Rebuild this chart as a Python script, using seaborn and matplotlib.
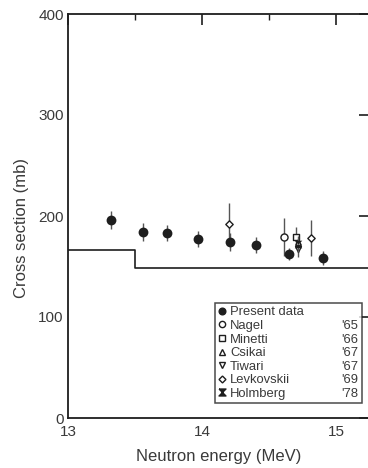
import matplotlib
matplotlib.use("Agg")
import matplotlib.pyplot as plt
from matplotlib.lines import Line2D
import seaborn as sns
import pandas as pd

# ---- data ----
present_E = [13.32, 13.56, 13.74, 13.97, 14.21, 14.40, 14.65, 14.90]
present_S = [196, 184, 183, 177, 174, 171, 162, 158]
present_err = [9, 9, 8, 8, 9, 8, 6, 7]

nagel_E, nagel_S, nagel_err = [14.61], [179], [19]
minetti_E, minetti_S, minetti_err = [14.70], [179], [10]
csikai_E, csikai_S, csikai_err = [14.71], [174], [7]
tiwari_E, tiwari_S, tiwari_err = [14.71], [167], [8]
levk_E, levk_S, levk_err = [14.20, 14.81], [192, 178], [21, 18]
holm_E, holm_S, holm_err = [14.71], [172], [8]

step_E = [13.0, 13.5, 15.3]
step_S = [166, 149, 149]

legend_names = ["Present data", "Nagel", "Minetti", "Csikai", "Tiwari", "Levkovskii", "Holmberg"]
legend_years = ["", "'65", "'66", "'67", "'67", "'69", "'78"]

x_ticks = [13, 14, 15]
y_ticks = [0, 100, 200, 300, 400]

# ---- style ----
sns.set_theme(style="white")
plt.rcParams["font.family"] = ["Liberation Sans", "DejaVu Sans"]
INK = "#1e1e1e"
GREY = "#555555"
TXT = "#3a3a3a"

W, H = 368, 468
fig = plt.figure(figsize=(W / 100, H / 100), dpi=100)
ax = fig.add_axes([68 / W, 1 - 418 / H, 302 / W, 404 / H])

hourglass = [(-1, 1), (1, 1), (-1, -1), (1, -1), (-1, 1)]

# step curve
sns.lineplot(x=step_E, y=step_S, ax=ax, color=INK, lw=1.2, drawstyle="steps-post",
             estimator=None, sort=False)

def series(E, S, err, marker, size, filled, z):
    ax.errorbar(E, S, yerr=err, fmt="none", ecolor=GREY, elinewidth=1.0, capsize=0, zorder=z)
    df = pd.DataFrame({"E": E, "S": S})
    sns.scatterplot(data=df, x="E", y="S", ax=ax, marker=marker, s=size,
                    color=INK if filled else "white", edgecolor=INK,
                    linewidth=0 if filled else 1.0, zorder=z + 1, legend=False)

series(levk_E, levk_S, levk_err, "D", 14, False, 3)
series(nagel_E, nagel_S, nagel_err, "o", 26, False, 3)
series(minetti_E, minetti_S, minetti_err, "s", 22, False, 3)
series(csikai_E, csikai_S, csikai_err, "^", 16, False, 3)
series(tiwari_E, tiwari_S, tiwari_err, "v", 18, False, 3)
series(holm_E, holm_S, holm_err, hourglass, 30, True, 4)
series(present_E, present_S, present_err, "o", 50, True, 5)

ax.set_xlim(13, 15.25)
ax.set_ylim(0, 400)
ax.set_xticks(x_ticks)
ax.set_xticklabels([str(t) for t in x_ticks])
ax.set_xticks([13.5, 14.5], minor=True)
ax.set_yticks(y_ticks)
ax.set_yticklabels([str(t) for t in y_ticks])
ax.tick_params(which="both", direction="in", top=True, right=True, colors=INK,
               labelsize=11, labelcolor=TXT)
ax.tick_params(which="major", length=8, width=1.2)
ax.tick_params(which="minor", length=4.5, width=1.0)
ax.tick_params(axis="y", which="major", pad=3)
ax.tick_params(axis="x", which="major", pad=5)
for sp in ax.spines.values():
    sp.set_color(INK)
    sp.set_linewidth(1.3)
ax.set_xlabel("Neutron energy (MeV)", fontsize=12, color=TXT, labelpad=7)
ax.set_ylabel("Cross section (mb)", fontsize=12, color=TXT, labelpad=8)
ax.yaxis.set_label_coords(-0.128, (418 - 228) / 404)

# legend
handles = [
    Line2D([], [], ls="none", marker="o", ms=4.8, mfc=INK, mec=INK),
    Line2D([], [], ls="none", marker="o", ms=4.5, mfc="white", mec=INK, mew=1),
    Line2D([], [], ls="none", marker="s", ms=4.5, mfc="white", mec=INK, mew=1),
    Line2D([], [], ls="none", marker="^", ms=4.5, mfc="white", mec=INK, mew=1),
    Line2D([], [], ls="none", marker="v", ms=4.5, mfc="white", mec=INK, mew=1),
    Line2D([], [], ls="none", marker="D", ms=3.5, mfc="white", mec=INK, mew=1),
    Line2D([], [], ls="none", marker=hourglass, ms=5, mfc=INK, mec=INK),
]
x0 = (215 - 68) / 302
x1 = (362 - 68) / 302
ytop = (418 - 303) / 404
ybot = (418 - 402) / 404
leg = ax.legend(handles, legend_names, loc="upper left",
                bbox_to_anchor=(x0, ybot, x1 - x0, ytop - ybot), mode="expand",
                fontsize=9.4, frameon=True, fancybox=False, handlelength=0.6,
                handletextpad=0.3, labelspacing=0.11, borderpad=0.25, borderaxespad=0)
leg.get_frame().set_edgecolor(INK)
leg.get_frame().set_linewidth(1.1)
for t in leg.get_texts():
    t.set_color(TXT)

fig.canvas.draw()
lb = leg.get_window_extent()
for t, yr in zip(leg.get_texts(), legend_years):
    if not yr:
        continue
    bb = t.get_window_extent()
    fig.text((lb.x1 - 4) / W, (bb.y0 + bb.y1) / 2 / H, yr, ha="right", va="center",
             fontsize=9.4, color=TXT)

fig.savefig("out.png", dpi=100, facecolor="white")
